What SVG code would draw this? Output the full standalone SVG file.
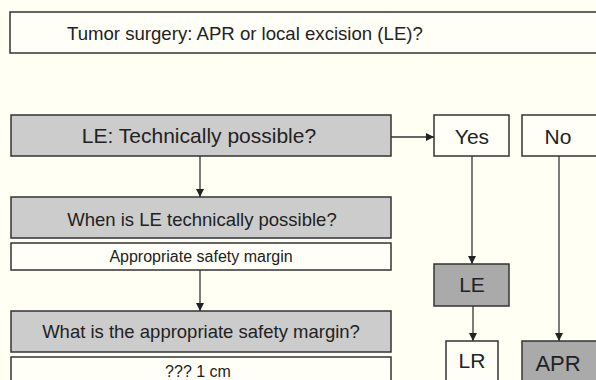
<svg xmlns="http://www.w3.org/2000/svg" width="596" height="380" viewBox="0 0 596 380">
<style>
.box{stroke:#333;stroke-width:1.5}
.w{fill:#fffff8}
.g{fill:#cccccc}
.d{fill:#aaaaaa}
text{font-family:"Liberation Sans",Arial,sans-serif;fill:#222}
.c{text-anchor:middle}
.ln{stroke:#333;stroke-width:1.3;fill:none}
</style>
<defs>
<marker id="ah" viewBox="0 0 10 10" refX="10" refY="5" markerWidth="8" markerHeight="8" markerUnits="userSpaceOnUse" orient="auto">
<path d="M0,0 L10,5 L0,10 z" fill="#222"/>
</marker>
</defs>
<rect width="596" height="380" fill="#fffff4"/>
<g id="title"><rect class="box w" x="10" y="12" width="600" height="41"/><text x="67" y="40" font-size="18.6">Tumor surgery: APR or local excision (LE)?</text></g>
<g id="le-q"><rect class="box g" x="11" y="115" width="380" height="41"/><text class="c" x="199" y="143" font-size="21">LE: Technically possible?</text></g>
<g id="yes"><rect class="box w" x="434" y="115" width="75" height="41"/><text class="c" x="472" y="144" font-size="21">Yes</text></g>
<g id="no"><rect class="box w" x="522" y="115" width="90" height="41"/><text class="c" x="558" y="144" font-size="21">No</text></g>
<g id="when"><rect class="box g" x="11" y="197" width="380" height="41"/><text class="c" x="202" y="226" font-size="18.5">When is LE technically possible?</text></g>
<g id="margin"><rect class="box w" x="11" y="243" width="380" height="27"/><text class="c" x="201" y="262" font-size="16">Appropriate safety margin</text></g>
<g id="what"><rect class="box g" x="11" y="311" width="380" height="41"/><text class="c" x="201" y="338" font-size="18.5">What is the appropriate safety margin?</text></g>
<g id="cm"><rect class="box w" x="11" y="357" width="380" height="40"/><text class="c" x="198" y="377" font-size="16">??? 1 cm</text></g>
<g id="le"><rect class="box d" x="434" y="264" width="75" height="42"/><text class="c" x="472" y="292" font-size="21">LE</text></g>
<g id="lr"><rect class="box w" x="446" y="341" width="52" height="50"/><text class="c" x="472" y="368" font-size="21">LR</text></g>
<g id="apr"><rect class="box d" x="522" y="341" width="90" height="50"/><text class="c" x="558" y="371" font-size="22">APR</text></g>
<g id="connectors">
<line class="ln" x1="200" y1="156" x2="200" y2="197" marker-end="url(#ah)"/>
<line class="ln" x1="200" y1="270" x2="200" y2="311" marker-end="url(#ah)"/>
<line class="ln" x1="391" y1="137" x2="434" y2="137" marker-end="url(#ah)"/>
<line class="ln" x1="472" y1="156" x2="472" y2="264" marker-end="url(#ah)"/>
<line class="ln" x1="473" y1="306" x2="473" y2="341" marker-end="url(#ah)"/>
<line class="ln" x1="559" y1="156" x2="559" y2="341" marker-end="url(#ah)"/>
</g>
</svg>
